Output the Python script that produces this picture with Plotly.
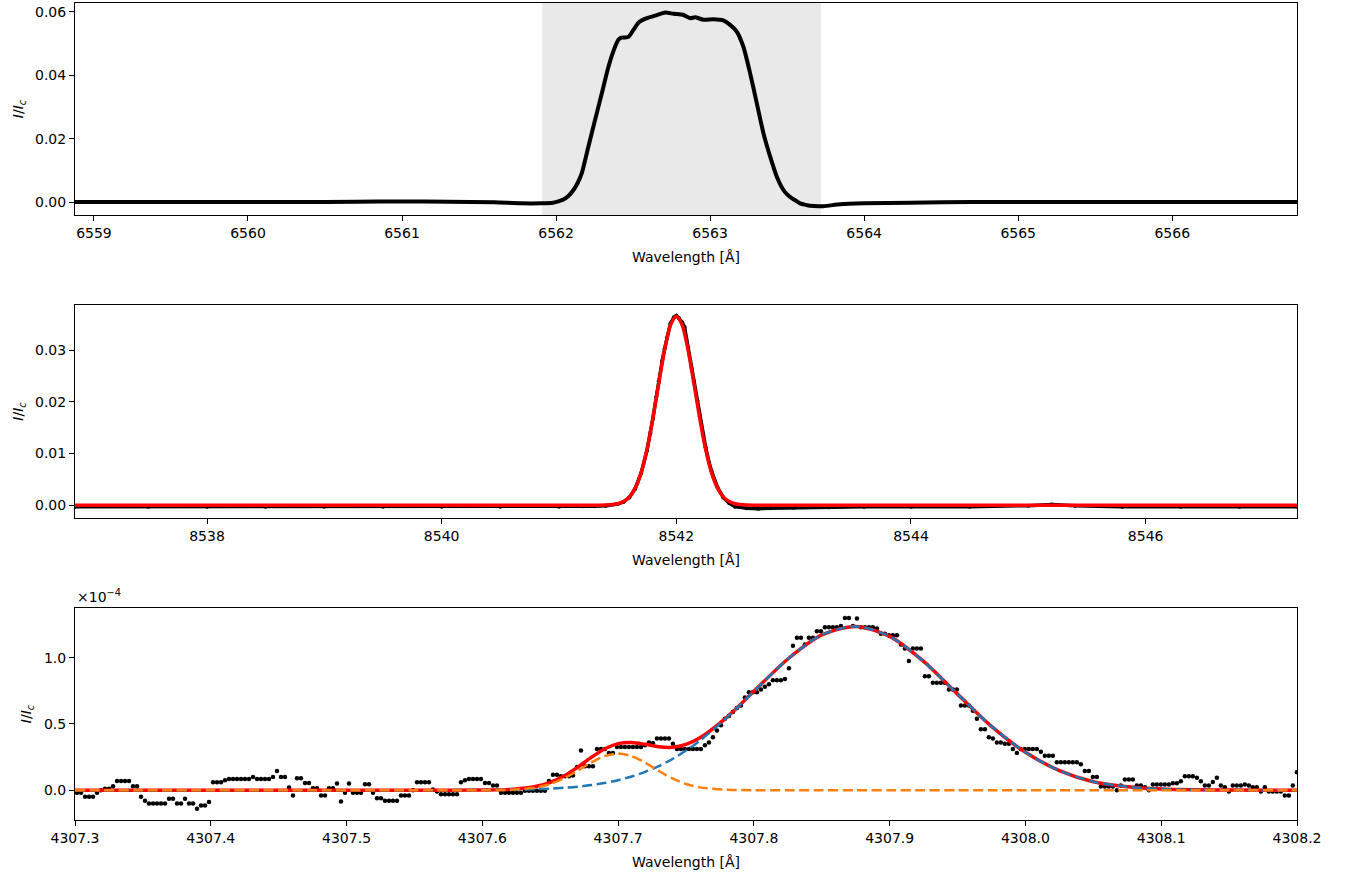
import numpy as np
import plotly.graph_objects as go

# ---------------- Panel 1: H-alpha profile ----------------
HA_WAVE = [6558.877, 6559.3, 6559.8, 6560.3, 6560.7, 6561.0, 6561.3, 6561.6, 6561.77, 6561.90,
           6561.98, 6562.02, 6562.048, 6562.08, 6562.113, 6562.14, 6562.167, 6562.210, 6562.253, 6562.297,
           6562.340, 6562.383, 6562.405, 6562.420, 6562.445, 6562.470, 6562.502, 6562.535, 6562.589, 6562.654,
           6562.708, 6562.762, 6562.827, 6562.870, 6562.903, 6562.957, 6563.021, 6563.086, 6563.130, 6563.173,
           6563.216, 6563.260, 6563.303, 6563.346, 6563.390, 6563.433, 6563.476, 6563.50, 6563.53, 6563.56,
           6563.584, 6563.62, 6563.649, 6563.736, 6563.844, 6564.0, 6564.3, 6564.7, 6565.2, 6565.8,
           6566.3, 6566.81]
HA_FLUX = [0.0000, 0.0000, 0.0000, 0.0000, 0.0001, 0.0002, 0.0001, -0.0001, -0.0004, -0.0004,
           -0.0002, 0.0003, 0.0008, 0.0019, 0.0038, 0.0060, 0.0091, 0.0175, 0.0259, 0.0343,
           0.0427, 0.0490, 0.0512, 0.0518, 0.0519, 0.0521, 0.0543, 0.0566, 0.0580, 0.0590,
           0.0598, 0.0594, 0.0590, 0.0580, 0.0583, 0.0575, 0.0577, 0.0573, 0.0559, 0.0538,
           0.0490, 0.0406, 0.0312, 0.0217, 0.0143, 0.0080, 0.0038, 0.0024, 0.0012, 0.0003,
           -0.0004, -0.0009, -0.0012, -0.0013, -0.0007, -0.0004, -0.0002, 0.0000, 0.0000, 0.0000,
           0.0000, 0.0000]
HA_SHADE = [6561.91, 6563.72]

# ---------------- Panel 2: Ca II 8542 ----------------
CA_WAVE = [8536.875, 8537.5, 8538.0, 8538.5, 8539.0, 8539.5, 8540.0, 8540.5, 8541.0, 8541.2,
           8541.3, 8541.4, 8541.5, 8541.55, 8541.6, 8541.65, 8541.7, 8541.75, 8541.78, 8541.8,
           8541.83, 8541.85, 8541.88, 8541.9, 8541.92, 8541.95, 8541.98, 8542.0, 8542.02, 8542.05,
           8542.07, 8542.1, 8542.13, 8542.15, 8542.18, 8542.2, 8542.23, 8542.25, 8542.28, 8542.3,
           8542.35, 8542.4, 8542.45, 8542.5, 8542.6, 8542.7, 8542.8, 8543.0, 8543.3, 8543.6,
           8544.0, 8544.5, 8545.0, 8545.2, 8545.4, 8545.8, 8546.3, 8546.8, 8547.29]
CA_FLUX = [-0.0003, -0.0003, -0.0003, -0.0003, -0.0003, -0.0003, -0.0003, -0.0003, -0.0003, -0.0002,
           -0.0002, -0.0001, 0.0002, 0.0006, 0.0015, 0.0032, 0.0062, 0.0106, 0.0140, 0.0168,
           0.0210, 0.0240, 0.0280, 0.0303, 0.0325, 0.0352, 0.0364, 0.0367, 0.0363, 0.0354,
           0.0345, 0.0305, 0.0266, 0.0240, 0.0202, 0.0172, 0.0136, 0.0112, 0.0082, 0.0066,
           0.0035, 0.0015, 0.0004, -0.0003, -0.0006, -0.0007, -0.0006, -0.0005, -0.0004, -0.0003,
           -0.0003, -0.0003, -0.0001, 0.0001, -0.0001, -0.0003, -0.0003, -0.0003, -0.0003]
CA_FIT_WAVE = [8536.875, 8541.0, 8541.4, 8541.5, 8541.55, 8541.6, 8541.65, 8541.7, 8541.75, 8541.8,
               8541.85, 8541.9, 8541.95, 8542.0, 8542.05, 8542.1, 8542.15, 8542.2, 8542.25, 8542.3,
               8542.35, 8542.4, 8542.45, 8542.5, 8542.6, 8543.0, 8547.29]
CA_FIT_FLUX = [0.0, 0.0, 0.00003, 0.00028, 0.0007, 0.00161, 0.00334, 0.0063, 0.0108, 0.0168,
               0.0236, 0.0301, 0.0349, 0.0366, 0.0349, 0.0301, 0.0236, 0.0168, 0.0108, 0.0063,
               0.00334, 0.00161, 0.0007, 0.00028, 0.00003, 0.0, 0.0]

# ---------------- Panel 3: 4307.9 line (values in units of 1e-4) ----------------
CAK_WAVE_START = 4307.3015
CAK_WAVE_STEP = 0.0029455
CAK_FLUX_E4 = [
    -0.02, -0.02, -0.05, -0.05, -0.05, -0.02, 0.00, 0.01, 0.01, 0.03,
    0.07, 0.07, 0.07, 0.07, 0.03, 0.03, -0.05, -0.08, -0.10, -0.10,
    -0.10, -0.10, -0.10, -0.065, -0.065, -0.10, -0.10, -0.065, -0.10, -0.10,
    -0.14, -0.115, -0.115, -0.09, 0.06, 0.06, 0.06, 0.075, 0.085, 0.085,
    0.085, 0.085, 0.085, 0.085, 0.10, 0.085, 0.085, 0.085, 0.085, 0.10,
    0.145, 0.10, 0.10, 0.02, -0.04, 0.09, 0.09, 0.055, 0.055, 0.015,
    0.015, -0.04, -0.04, 0.015, 0.015, 0.05, -0.085, -0.02, 0.05, -0.02,
    -0.02, -0.02, 0.045, 0.045, -0.02, -0.06, -0.06,
    -0.08, -0.08, -0.08, -0.08, -0.04, -0.04, -0.04, 0.00, 0.06, 0.06,
    0.06, 0.06, 0.005, -0.01, -0.03, -0.03, -0.03, -0.03, -0.03, 0.06,
    0.075, 0.085, 0.085, 0.085, 0.085, 0.055, 0.055, 0.035, 0.035, -0.02,
    -0.02, -0.02, -0.02, -0.02, -0.02, -0.005, -0.005, -0.005, -0.005, -0.005,
    -0.005, 0.07, 0.116, 0.116, 0.106, 0.106, 0.106, 0.11, 0.175, 0.30,
    0.18, 0.18, 0.18, 0.31, 0.31, 0.31, 0.28, 0.28, 0.325, 0.325,
    0.325, 0.325, 0.325, 0.325, 0.325, 0.34, 0.36, 0.355, 0.39, 0.39,
    0.39, 0.39, 0.35,
    0.31, 0.31, 0.31, 0.31, 0.31, 0.31, 0.31, 0.34, 0.36, 0.40,
    0.45, 0.49, 0.54, 0.56, 0.59, 0.62, 0.64, 0.70, 0.74, 0.74,
    0.74, 0.76, 0.78, 0.80, 0.83, 0.83, 0.83, 0.84, 0.92, 1.09,
    1.15, 1.15, 1.10, 1.15, 1.15, 1.20, 1.20, 1.23, 1.23, 1.23,
    1.23, 1.24, 1.30, 1.30, 1.24, 1.295, 1.23, 1.23, 1.23, 1.23,
    1.22, 1.18, 1.18, 1.17, 1.17, 1.17, 1.10, 1.07, 0.975, 1.07,
    1.07, 1.07, 0.86, 0.86, 0.81, 0.81, 0.81, 0.81, 0.76, 0.76,
    0.76, 0.64, 0.64, 0.64, 0.60, 0.54, 0.46, 0.46, 0.40, 0.39,
    0.36,
    0.36, 0.35, 0.35, 0.31, 0.28, 0.31, 0.31, 0.31, 0.31, 0.31,
    0.29, 0.26, 0.26, 0.26, 0.21, 0.21, 0.21, 0.21, 0.21, 0.21,
    0.195, 0.144, 0.144, 0.10, 0.10, 0.028, 0.028, 0.028, 0.028, 0.00,
    0.036, 0.08, 0.08, 0.08, 0.036, 0.036, 0.023, 0.00, 0.043, 0.043,
    0.043, 0.043, 0.043, 0.053, 0.053, 0.068, 0.106, 0.106, 0.106, 0.093,
    0.068, 0.036, 0.036, 0.061, 0.093, 0.036, 0.023, -0.01, 0.036, 0.036,
    0.036, 0.043, 0.036, 0.023, 0.023, -0.01, 0.023, -0.01, -0.01, -0.01,
    -0.01, -0.04, -0.04, 0.036, 0.136,
]
FIT_WAVE = [4307.30, 4307.40, 4307.50, 4307.55, 4307.60, 4307.62, 4307.64, 4307.65, 4307.66, 4307.67,
            4307.68, 4307.69, 4307.70, 4307.71, 4307.72, 4307.73, 4307.74, 4307.75, 4307.76, 4307.78,
            4307.80, 4307.825, 4307.85, 4307.875, 4307.90, 4307.925, 4307.95, 4307.975, 4308.00, 4308.025,
            4308.05, 4308.075, 4308.10, 4308.125, 4308.15, 4308.20]
FIT_TOTAL_E4 = [0, 0, 0, 0.0001, 0.0014, 0.0061, 0.0292, 0.0587, 0.1064, 0.1719,
                0.2458, 0.3113, 0.3515, 0.3603, 0.3460, 0.3277, 0.3239, 0.3456, 0.3933, 0.5499,
                0.7462, 0.990, 1.172, 1.236, 1.161, 0.972, 0.725, 0.482, 0.286, 0.148,
                0.064, 0.026, 0.009, 0.003, 0.001, 0]
FIT_COMP1_E4 = [0, 0, 0, 0.0001, 0.0012, 0.0032, 0.0079, 0.0121, 0.0180, 0.0265,
                0.0383, 0.0543, 0.0755, 0.1033, 0.1385, 0.1823, 0.2355, 0.299, 0.372, 0.547,
                0.746, 0.990, 1.172, 1.236, 1.161, 0.972, 0.725, 0.482, 0.286, 0.148,
                0.064, 0.026, 0.009, 0.003, 0.001, 0]
FIT_COMP2_E4 = [0, 0, 0, 0, 0.0002, 0.0029, 0.0213, 0.0466, 0.0884, 0.1454,
                0.2075, 0.257, 0.276, 0.257, 0.2075, 0.1454, 0.0884, 0.0466, 0.0213, 0.0029,
                0.0002, 0, 0, 0, 0, 0, 0, 0, 0, 0,
                0, 0, 0, 0, 0, 0]
SCALE = 1e-4
X3_TICKS = [4307.3, 4307.4, 4307.5, 4307.6, 4307.7, 4307.8, 4307.9, 4308.0, 4308.1, 4308.2]
Y3_TICKS = [0.0, 0.5, 1.0]

cak_wave = CAK_WAVE_START + CAK_WAVE_STEP * np.arange(len(CAK_FLUX_E4))

FONT = dict(family="DejaVu Sans", size=14, color="black")

fig = go.Figure()

# Panel 1
fig.add_trace(go.Scatter(x=HA_WAVE, y=HA_FLUX, mode="lines",
                         line=dict(color="black", width=4, shape="spline", smoothing=0.6),
                         xaxis="x", yaxis="y", showlegend=False))

# Panel 2
fig.add_trace(go.Scatter(x=CA_WAVE, y=CA_FLUX, mode="lines+markers",
                         line=dict(color="black", width=3.5),
                         marker=dict(color="black", size=4),
                         xaxis="x2", yaxis="y2", showlegend=False))
fig.add_trace(go.Scatter(x=CA_FIT_WAVE, y=CA_FIT_FLUX, mode="lines",
                         line=dict(color="red", width=3.5, shape="spline", smoothing=0.8),
                         xaxis="x2", yaxis="y2", showlegend=False))

# Panel 3
fig.add_trace(go.Scatter(x=cak_wave, y=np.array(CAK_FLUX_E4) * SCALE, mode="markers",
                         marker=dict(color="black", size=4.5),
                         xaxis="x3", yaxis="y3", showlegend=False))
fig.add_trace(go.Scatter(x=FIT_WAVE, y=np.array(FIT_TOTAL_E4) * SCALE, mode="lines",
                         line=dict(color="red", width=3.5, shape="spline", smoothing=0.8),
                         xaxis="x3", yaxis="y3", showlegend=False))
fig.add_trace(go.Scatter(x=FIT_WAVE, y=np.array(FIT_COMP1_E4) * SCALE, mode="lines",
                         line=dict(color="#1f77b4", width=2.5, dash="10px,4.5px", shape="spline", smoothing=0.8),
                         xaxis="x3", yaxis="y3", showlegend=False))
fig.add_trace(go.Scatter(x=FIT_WAVE, y=np.array(FIT_COMP2_E4) * SCALE, mode="lines",
                         line=dict(color="#ff7f0e", width=2.5, dash="10px,4.5px", shape="spline", smoothing=0.8),
                         xaxis="x3", yaxis="y3", showlegend=False))

common = dict(showline=True, linecolor="black", linewidth=1.1, mirror=True,
              ticks="outside", ticklen=5, tickwidth=1.1, tickcolor="black",
              showgrid=False, zeroline=False, automargin=False, tickfont=FONT)
xtitle = dict(text="Wavelength [Å]", font=FONT, standoff=12)
ytitle = dict(text="<i>I</i>/<i>I</i><sub><i>c</i></sub>", font=FONT, standoff=8)

fig.update_layout(
    width=1347, height=875,
    margin=dict(l=75, r=50, t=3, b=55),
    paper_bgcolor="white", plot_bgcolor="white",
    font=FONT,
    xaxis=dict(domain=[0, 1], anchor="y", range=[6558.877, 6566.81],
               tickmode="linear", tick0=6559, dtick=1, title=xtitle, **common),
    yaxis=dict(domain=[0.7405, 1.0], anchor="x", range=[-0.0041, 0.0628],
               tickmode="linear", tick0=0, dtick=0.02, tickformat=".2f", title=ytitle, **common),
    xaxis2=dict(domain=[0, 1], anchor="y2", range=[8536.875, 8547.29],
                tickmode="linear", tick0=8538, dtick=2, title=xtitle, **common),
    yaxis2=dict(domain=[0.3696, 0.6304], anchor="x2", range=[-0.0025, 0.0388],
                tickmode="linear", tick0=0, dtick=0.01, tickformat=".2f", title=ytitle, **common),
    xaxis3=dict(domain=[0, 1], anchor="y3", range=[4307.3, 4308.2],
                tickmode="array", tickvals=X3_TICKS, ticktext=[f"{v:.1f}" for v in X3_TICKS],
                title=xtitle, **common),
    yaxis3=dict(domain=[0, 0.2595], anchor="x3", range=[-0.225e-4, 1.375e-4],
                tickmode="array", tickvals=[v * SCALE for v in Y3_TICKS],
                ticktext=[f"{v:.1f}" for v in Y3_TICKS], title=ytitle, **common),
    shapes=[dict(type="rect", xref="x", yref="y domain", x0=HA_SHADE[0], x1=HA_SHADE[1],
                 y0=0, y1=1, fillcolor="rgba(211,211,211,0.5)", line=dict(width=0), layer="below")],
    annotations=[dict(text="×10<sup>−4</sup>", xref="x3 domain", yref="y3 domain",
                      x=0, y=1, xanchor="left", yanchor="bottom", yshift=1,
                      showarrow=False, font=FONT)],
)

fig.write_html("out.html")
